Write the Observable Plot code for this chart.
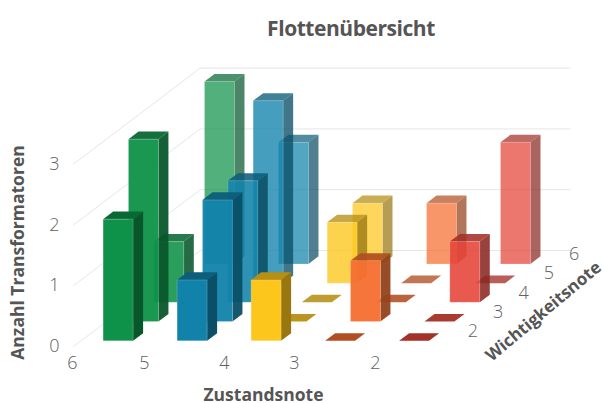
<!DOCTYPE html>
<html>
<head>
<meta charset="utf-8">
<script src="https://cdn.jsdelivr.net/npm/d3@7"></script>
<script src="https://cdn.jsdelivr.net/npm/@observablehq/plot@0.6"></script>
<style>
html,body{margin:0;padding:0;background:#fff}
#title{height:46px;padding-left:98px;text-align:center;font:700 21px/56px "Open Sans",sans-serif;letter-spacing:-0.45px;color:#555;box-sizing:border-box;width:604px}
svg{display:block}
</style>
</head>
<body>
<div id="title">Flottenübersicht</div>
<div id="chart"></div>
<script>
const zustandTicks = [6, 5, 4, 3, 2];
const wichtigkeitTicks = [2, 3, 4, 5, 6];
const anzahlTicks = [0, 1, 2, 3];
const columnColors = ["#0e9148", "#1183ab", "#fdc61c", "#f66e2f", "#e54338"];
const rowAlpha = [1, 0.95, 0.88, 0.78, 0.72];
// counts per Zustandsnote column, front (Wichtigkeit row 0) to back
const column0 = [2, 3, 1, 0, 3];
const column1 = [1, 2, 2, 3, 2];
const column2 = [1, 0, 0, 1, 1];
const column3 = [0, 1, 0, 0, 1];
const column4 = [0, 0, 1, 0, 2];
const columns = [column0, column1, column2, column3, column4];

// oblique 3D projection into the x / y scale domains
const depthX = 0.3425, depthY = 0.3158;
const px = (c, r) => c + r * depthX;
const py = (r, v) => v + r * depthY;
const pad = 0.2975, barW = 0.405, padR = 0.3, barD = 0.395;

const faces = [];
function face(id, color, alpha, edge, pts) {
  const rgb = d3.rgb(color);
  const fill = `rgba(${Math.round(rgb.r)},${Math.round(rgb.g)},${Math.round(rgb.b)},${alpha})`;
  const closed = [...pts, pts[0]];
  for (const p of closed) faces.push({id, fill, edge, x: p[0], y: p[1]});
}
const shade = (hex, f) => { const c = d3.rgb(hex); return d3.rgb(c.r * f, c.g * f, c.b * f).formatHex(); };
const noEdge = "rgba(255,255,255,0)", paleEdge = "rgba(255,255,255,0.3)";
for (let r = 4; r >= 0; r--) {
  for (let c = 0; c < 5; c++) {
    const v = columns[c][r];
    const col = columnColors[c], a = rowAlpha[r];
    const c0 = c + pad, c1 = c0 + barW, r0 = r + padR, r1 = r0 + barD;
    const id = `${c}-${r}`;
    const P = (cc, rr, vv) => [px(cc, rr), py(rr, vv)];
    if (v > 0) face(id + "s", shade(col, 0.6), a, noEdge, [P(c1, r0, 0), P(c1, r1, 0), P(c1, r1, v), P(c1, r0, v)]);
    face(id + "t", shade(col, 0.72), a, noEdge, [P(c0, r0, v), P(c1, r0, v), P(c1, r1, v), P(c0, r1, v)]);
    if (v > 0) face(id + "f", col, a, paleEdge, [P(c0, r0, 0), P(c1, r0, 0), P(c1, r0, v), P(c0, r0, v)]);
  }
}

const wallLines = [];
for (const v of anzahlTicks) {
  wallLines.push({v, x: px(0, 0), y: py(0, v)}, {v, x: px(0, 5), y: py(5, v)}, {v, x: px(5, 5), y: py(5, v)});
}

// small pixel nudges of the tick labels along the Zustandsnote edge
const zustandNudge = [-1, -3, 3, -1, 6];
const font = "Open Sans";
const chart = Plot.plot({
  width: 604,
  height: 357,
  margin: 0,
  x: {type: "linear", domain: [0, 496 / 74], range: [73, 569], axis: null},
  y: {type: "linear", domain: [0, 300 / 60.8], range: [300, 0], axis: null},
  color: {type: "identity"},
  style: {fontFamily: font, background: "#fff"},
  marks: [
    Plot.line(wallLines, {x: "x", y: "y", z: "v", stroke: "#e6e6e6", strokeWidth: 1}),
    Plot.line(faces, {x: "x", y: "y", z: "id", fill: "fill", stroke: "edge", strokeWidth: 0.6, curve: "linear"}),
    Plot.text(anzahlTicks, {x: 0, y: d => d, text: d => String(d), dx: -19, textAnchor: "middle", fontSize: 18, fill: "#606060", fontWeight: 300}),
    Plot.text(zustandTicks, {x: (d, i) => i + zustandNudge[i] / 74, y: 0, text: d => String(d), dy: 17, textAnchor: "middle", fontSize: 18, fill: "#606060", fontWeight: 300}),
    Plot.text(wichtigkeitTicks, {x: (d, i) => px(5, i + 1), y: (d, i) => py(i + 1, 0), text: d => String(d), dx: 4, dy: 4, textAnchor: "middle", fontSize: 18, fill: "#606060", fontWeight: 300}),
    Plot.text(["Anzahl Transformatoren"], {frameAnchor: "top-left", dx: 18, dy: 206, rotate: -90, fontSize: 17.5, fontWeight: 700, fill: "#555", textAnchor: "middle", lineAnchor: "middle"}),
    Plot.text(["Zustandsnote"], {frameAnchor: "top-left", dx: 263, dy: 349, fontSize: 17.5, fontWeight: 700, fill: "#555", textAnchor: "middle", lineAnchor: "middle"}),
    Plot.text(["Wichtigkeitsnote"], {frameAnchor: "top-left", dx: 543, dy: 265, rotate: -40, fontSize: 17, fontWeight: 700, fill: "#555", textAnchor: "middle", lineAnchor: "middle"})
  ]
});
document.getElementById("chart").append(chart);
</script>
</body>
</html>
